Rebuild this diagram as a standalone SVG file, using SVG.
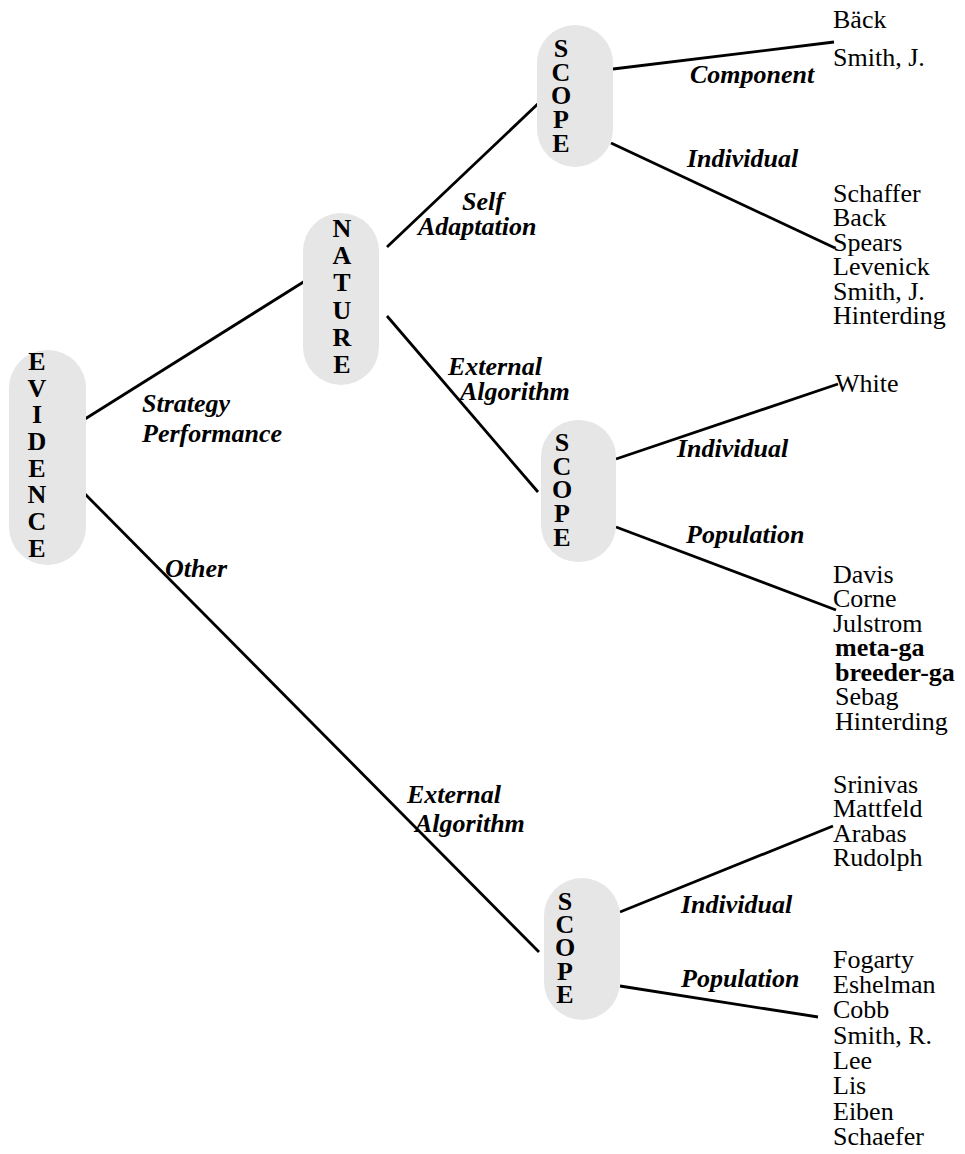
<svg xmlns="http://www.w3.org/2000/svg" width="965" height="1154" viewBox="0 0 965 1154">
<style>
.pill{fill:#e6e6e6;stroke:none}
.pl{font-family:"Liberation Serif",serif;font-weight:bold;font-size:26px;fill:#000;text-anchor:middle}
.lab{font-family:"Liberation Serif",serif;font-weight:bold;font-style:italic;font-size:26px;fill:#000}
.nm{font-family:"Liberation Serif",serif;font-size:26px;fill:#000}
.nmb{font-family:"Liberation Serif",serif;font-weight:bold;font-size:26px;fill:#000}
.edge{stroke:#000;stroke-width:2.8;fill:none}
</style>
<rect width="965" height="1154" fill="#fff"/>
<g id="connectors">
<line class="edge" x1="77" y1="424" x2="305" y2="281"/>
<line class="edge" x1="85" y1="494" x2="539" y2="952"/>
<line class="edge" x1="387" y1="247" x2="543" y2="99"/>
<line class="edge" x1="387" y1="316" x2="538" y2="492"/>
<line class="edge" x1="613" y1="69" x2="834" y2="42"/>
<line class="edge" x1="611" y1="143" x2="835" y2="248"/>
<line class="edge" x1="616" y1="459" x2="838" y2="384"/>
<line class="edge" x1="616" y1="527" x2="836" y2="610"/>
<line class="edge" x1="620" y1="912" x2="833" y2="826"/>
<line class="edge" x1="620" y1="986" x2="818" y2="1017"/>
</g>
<g id="edge-labels">
<text class="lab" x="142" y="412">Strategy</text>
<text class="lab" x="142" y="442">Performance</text>
<text class="lab" x="165" y="577">Other</text>
<text class="lab" x="462" y="210">Self</text>
<text class="lab" x="418" y="235">Adaptation</text>
<text class="lab" x="448" y="375">External</text>
<text class="lab" x="460" y="400">Algorithm</text>
<text class="lab" x="407" y="803">External</text>
<text class="lab" x="415" y="832">Algorithm</text>
<text class="lab" x="690" y="83">Component</text>
<text class="lab" x="687" y="167">Individual</text>
<text class="lab" x="677" y="457">Individual</text>
<text class="lab" x="686" y="543">Population</text>
<text class="lab" x="681" y="913">Individual</text>
<text class="lab" x="681" y="987">Population</text>
</g>
<g id="evidence">
<rect class="pill" x="9" y="350" width="77" height="215" rx="38" ry="38"/>
<text class="pl" x="37" y="370">E</text>
<text class="pl" x="37" y="397">V</text>
<text class="pl" x="37" y="423">I</text>
<text class="pl" x="37" y="450">D</text>
<text class="pl" x="37" y="477">E</text>
<text class="pl" x="37" y="503">N</text>
<text class="pl" x="37" y="530">C</text>
<text class="pl" x="37" y="557">E</text>
</g>
<g id="nature">
<rect class="pill" x="303" y="213" width="76" height="172" rx="38" ry="38"/>
<text class="pl" x="342" y="237">N</text>
<text class="pl" x="342" y="264">A</text>
<text class="pl" x="342" y="291">T</text>
<text class="pl" x="342" y="319">U</text>
<text class="pl" x="342" y="346">R</text>
<text class="pl" x="342" y="373">E</text>
</g>
<g id="scope-top">
<rect class="pill" x="537" y="25" width="76" height="142" rx="38" ry="38"/>
<text class="pl" x="561" y="57">S</text>
<text class="pl" x="561" y="81">C</text>
<text class="pl" x="561" y="104">O</text>
<text class="pl" x="561" y="128">P</text>
<text class="pl" x="561" y="152">E</text>
</g>
<g id="scope-middle">
<rect class="pill" x="541" y="420" width="75" height="142" rx="37" ry="37"/>
<text class="pl" x="562" y="451">S</text>
<text class="pl" x="562" y="475">C</text>
<text class="pl" x="562" y="498">O</text>
<text class="pl" x="562" y="522">P</text>
<text class="pl" x="562" y="546">E</text>
</g>
<g id="scope-bottom">
<rect class="pill" x="544" y="878" width="76" height="142" rx="38" ry="38"/>
<text class="pl" x="565" y="910">S</text>
<text class="pl" x="565" y="933">C</text>
<text class="pl" x="565" y="956">O</text>
<text class="pl" x="565" y="980">P</text>
<text class="pl" x="565" y="1003">E</text>
</g>
<g id="component-names">
<text class="nm" x="833" y="28">Bäck</text>
<text class="nm" x="833" y="66">Smith, J.</text>
</g>
<g id="self-individual-names">
<text class="nm" x="833" y="202">Schaffer</text>
<text class="nm" x="833" y="226">Back</text>
<text class="nm" x="833" y="251">Spears</text>
<text class="nm" x="833" y="275">Levenick</text>
<text class="nm" x="833" y="300">Smith, J.</text>
<text class="nm" x="833" y="324">Hinterding</text>
</g>
<g id="ext-individual-names">
<text class="nm" x="835" y="392">White</text>
</g>
<g id="ext-population-names">
<text class="nm" x="833" y="583">Davis</text>
<text class="nm" x="833" y="607">Corne</text>
<text class="nm" x="833" y="632">Julstrom</text>
<text class="nmb" x="835" y="656">meta-ga</text>
<text class="nmb" x="835" y="681">breeder-ga</text>
<text class="nm" x="835" y="705">Sebag</text>
<text class="nm" x="835" y="730">Hinterding</text>
</g>
<g id="other-individual-names">
<text class="nm" x="833" y="793">Srinivas</text>
<text class="nm" x="833" y="817">Mattfeld</text>
<text class="nm" x="833" y="842">Arabas</text>
<text class="nm" x="833" y="866">Rudolph</text>
</g>
<g id="other-population-names">
<text class="nm" x="833" y="968">Fogarty</text>
<text class="nm" x="833" y="993">Eshelman</text>
<text class="nm" x="833" y="1018">Cobb</text>
<text class="nm" x="833" y="1044">Smith, R.</text>
<text class="nm" x="833" y="1069">Lee</text>
<text class="nm" x="833" y="1094">Lis</text>
<text class="nm" x="833" y="1120">Eiben</text>
<text class="nm" x="833" y="1145">Schaefer</text>
</g>
</svg>
